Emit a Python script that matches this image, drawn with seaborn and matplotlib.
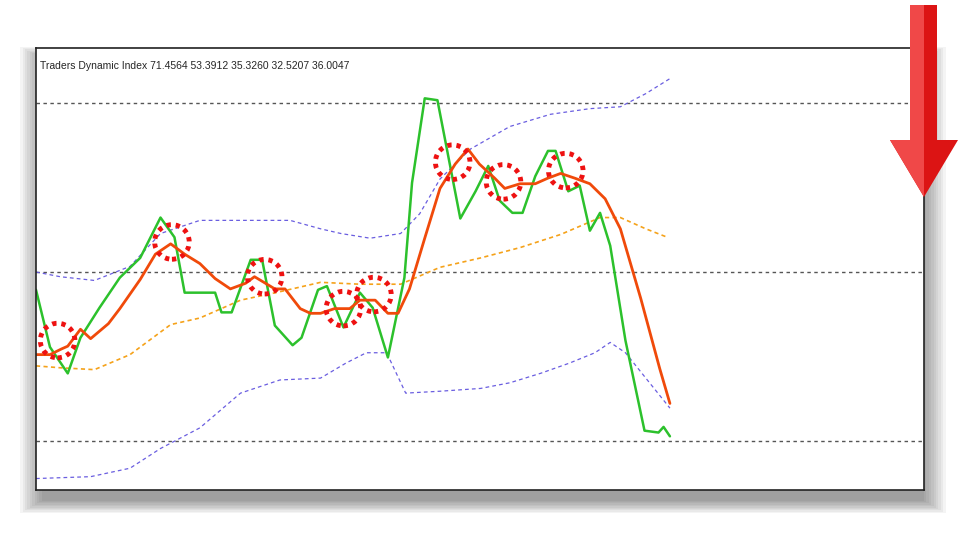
import numpy as np
import matplotlib
matplotlib.use("Agg")
import matplotlib.pyplot as plt
import seaborn as sns
from matplotlib.patches import Rectangle, Polygon

sns.set_style("white")
plt.rcParams['font.family'] = ['Liberation Sans', 'DejaVu Sans']

# values (bar index, indicator level)
green_x = [0, 1.1, 2.5, 3.5, 5.0, 6.6, 8.2, 9.8, 10.9, 11.7, 12.8, 14.1, 14.6, 15.4, 16.9, 17.8, 18.8, 20.2, 20.9, 22.2, 22.9, 24.2, 25.5, 26.5, 27.7, 29.0, 29.6, 30.6, 31.6, 33.4, 34.6, 35.6, 36.5, 37.5, 38.3, 39.3, 40.3, 40.9, 41.9, 42.8, 43.6, 44.4, 45.2, 46.4, 47.9, 49.0, 49.4, 49.9]
green_y = [48.1, 42.0, 39.2, 43.0, 46.2, 49.4, 51.5, 55.8, 53.7, 47.8, 47.8, 47.8, 45.7, 45.7, 51.3, 51.3, 44.3, 42.2, 43.0, 48.1, 48.5, 44.1, 47.8, 46.2, 40.9, 49.4, 59.5, 68.5, 68.3, 55.7, 58.6, 61.3, 57.6, 56.3, 56.3, 60.2, 62.9, 62.9, 58.6, 59.2, 54.4, 56.3, 52.8, 42.7, 33.1, 32.9, 33.5, 32.5]
red_x = [0, 1.1, 2.0, 2.5, 3.5, 4.3, 5.7, 6.6, 8.2, 9.4, 10.6, 11.7, 12.9, 14.1, 15.3, 16.5, 17.2, 18.8, 19.6, 20.8, 21.6, 22.4, 23.5, 24.7, 25.5, 26.7, 27.7, 28.5, 29.4, 30.6, 31.8, 33.0, 34.0, 34.9, 36.1, 36.9, 38.1, 39.3, 40.3, 41.3, 42.4, 43.6, 44.8, 46.0, 47.6, 49.1, 49.9]
red_y = [41.2, 41.2, 41.8, 42.1, 43.9, 42.9, 44.5, 46.1, 49.2, 51.9, 53.0, 51.9, 50.9, 49.3, 48.2, 48.8, 49.5, 48.2, 48.2, 46.1, 45.6, 45.6, 46.1, 46.1, 47.0, 47.0, 45.6, 45.6, 48.2, 53.6, 58.9, 61.5, 63.1, 61.5, 60.0, 58.9, 59.4, 59.4, 60.0, 60.5, 60.0, 59.4, 57.8, 54.6, 47.2, 39.7, 36.0]
orange_x = [0, 1.9, 4.6, 7.4, 10.6, 12.9, 16.1, 19.2, 22.4, 25.5, 28.7, 31.8, 35.0, 38.1, 41.3, 44.4, 46.0, 48.0, 49.7]
orange_y = [40.0, 39.8, 39.6, 41.2, 44.4, 45.1, 47.0, 47.9, 48.9, 48.7, 48.7, 50.5, 51.5, 52.6, 54.0, 55.8, 55.8, 54.6, 53.7]
band_up_x = [0, 1.9, 4.6, 7.4, 9.8, 12.9, 16.1, 20.0, 22.4, 24.0, 26.3, 28.7, 30.2, 31.8, 34.2, 37.3, 40.5, 43.6, 46.0, 48.0, 49.9]
band_up_y = [50.0, 49.5, 49.1, 50.6, 54.1, 55.5, 55.5, 55.5, 54.6, 54.1, 53.6, 54.1, 56.2, 59.9, 63.1, 65.5, 66.8, 67.4, 67.6, 69.0, 70.6]
band_lo_x = [0, 4.3, 7.4, 9.8, 12.9, 16.1, 19.2, 22.4, 24.4, 26.0, 27.6, 29.1, 31.8, 35.0, 37.3, 39.7, 42.0, 44.0, 45.2, 46.4, 48.0, 49.9]
band_lo_y = [28.0, 28.2, 29.1, 31.2, 33.4, 37.1, 38.5, 38.7, 40.3, 41.4, 41.4, 37.1, 37.3, 37.6, 38.2, 39.2, 40.3, 41.4, 42.5, 41.4, 38.7, 35.5]
cross_x = [1.7, 10.7, 18.0, 24.2, 26.6, 32.8, 36.8, 41.7]
cross_y = [42.7, 53.2, 49.5, 46.1, 47.6, 61.7, 59.6, 60.8]
levels = [68, 50, 32]
title = "Traders Dynamic Index 71.4564 53.3912 35.3260 32.5207 36.0047"

fig = plt.figure(figsize=(9.6, 5.4), dpi=100)
fig.patch.set_facecolor("white")

# soft drop shadow under the panel
for i in range(10):
    d = i * 0.0025
    fig.patches.append(Rectangle((0.0375 + 0.006 - d, 0.0926 - 0.02 - d), 0.925 + 2 * d - 0.006, 0.8185 + 2 * d,
                                 transform=fig.transFigure, facecolor="black", alpha=0.045,
                                 edgecolor="none", zorder=0))

ax = fig.add_axes([0.0375, 0.0926, 0.925, 0.8185], zorder=1)
ax.set_facecolor("white")
ax.set_xlim(0, 69.9)
ax.set_ylim(26.78, 73.86)

for lv in levels:
    ax.axhline(lv, color="#555555", lw=1, ls=(0, (2.5, 2.5)))

sns.lineplot(x=band_up_x, y=band_up_y, ax=ax, color="#6a5ee0", lw=0.9, ls=(0, (3, 2.5)), sort=False)
sns.lineplot(x=band_lo_x, y=band_lo_y, ax=ax, color="#6a5ee0", lw=0.9, ls=(0, (3, 2.5)), sort=False)
sns.lineplot(x=orange_x, y=orange_y, ax=ax, color="#f5a21a", lw=1.2, ls=(0, (2.5, 2)), sort=False)
sns.lineplot(x=green_x, y=green_y, ax=ax, color="#2cc12c", lw=1.8, sort=False)
sns.lineplot(x=red_x, y=red_y, ax=ax, color="#f04a0a", lw=2.0, sort=False)
ax.scatter(cross_x, cross_y, s=620, facecolors="none", edgecolors="#ee1111",
           linewidths=3.5, linestyle=(0, (0.9, 1.0)), zorder=5)

ax.set_xticks([])
ax.set_yticks([])
for s in ax.spines.values():
    s.set_color("#222222")
    s.set_linewidth(1.2)
ax.text(0.005, 0.97, title, transform=ax.transAxes, fontsize=7.5, va="top", ha="left")

# red down arrow at top right
pts = [(910, 5), (937, 5), (937, 140), (958, 140), (924, 197), (890, 140), (910, 140)]
fig.patches.append(Polygon([(x / 960, 1 - y / 540) for x, y in pts], closed=True, transform=fig.transFigure,
                           facecolor="#dc1414", edgecolor="none", zorder=3))
pts_l = [(910, 5), (924, 5), (924, 197), (890, 140), (910, 140)]
fig.patches.append(Polygon([(x / 960, 1 - y / 540) for x, y in pts_l], closed=True, transform=fig.transFigure,
                           facecolor="#f04848", edgecolor="none", zorder=3))

fig.savefig("out.png", dpi=100)
